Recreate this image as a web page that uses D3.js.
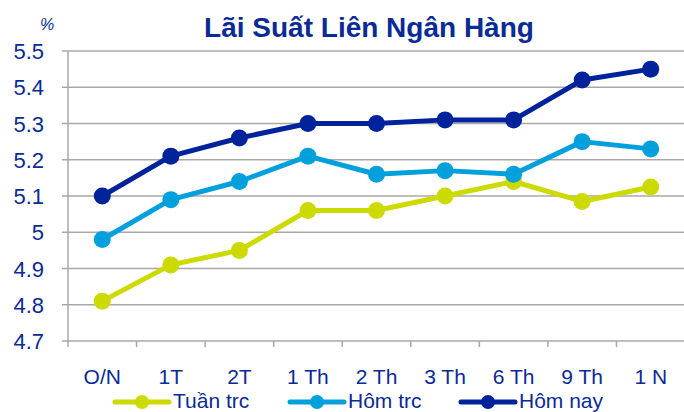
<!DOCTYPE html>
<html>
<head>
<meta charset="utf-8">
<script src="https://cdn.jsdelivr.net/npm/d3@7"></script>
<style>
  body { margin: 0; background: #fff; }
  text { font-family: "Liberation Sans", Arial, sans-serif; }
</style>
</head>
<body>
<script>
const categories = ["O/N", "1T", "2T", "1 Th", "2 Th", "3 Th", "6 Th", "9 Th", "1 N"];
const tuanTrc = [4.81, 4.91, 4.95, 5.06, 5.06, 5.10, 5.14, 5.085, 5.125];
const homTrc = [4.98, 5.09, 5.14, 5.21, 5.16, 5.17, 5.16, 5.25, 5.23];
const homNay = [5.10, 5.21, 5.26, 5.30, 5.30, 5.31, 5.31, 5.42, 5.45];
const yTicks = [4.7, 4.8, 4.9, 5, 5.1, 5.2, 5.3, 5.4, 5.5];

const seriesNames = ["Tuần trc", "Hôm trc", "Hôm nay"];
const seriesColors = ["#CCDA00", "#00A0DC", "#00239C"];
const seriesData = [tuanTrc, homTrc, homNay];

const W = 684, H = 412;
const plotL = 68, plotR = 685, plotT = 51, plotB = 341;
const textColor = "#0A2A96";

const svg = d3.select("body").append("svg")
  .attr("width", W)
  .attr("height", H);

const x = d3.scaleBand().domain(categories).range([plotL, plotR]);
const y = d3.scaleLinear().domain([4.7, 5.5]).range([plotB, plotT]);

// gridlines
svg.append("g")
  .selectAll("line")
  .data(yTicks)
  .enter()
  .append("line")
  .attr("x1", plotL - 6).attr("x2", plotR)
  .attr("y1", d => y(d)).attr("y2", d => y(d))
  .attr("stroke", "#A8A8A8")
  .attr("stroke-width", 1.5);

// y axis line
svg.append("line")
  .attr("x1", plotL).attr("x2", plotL)
  .attr("y1", plotT).attr("y2", plotB + 6)
  .attr("stroke", "#A8A8A8")
  .attr("stroke-width", 1.5);

// x tick marks at category boundaries
svg.append("g")
  .selectAll("line")
  .data(categories.slice(1))
  .enter()
  .append("line")
  .attr("x1", d => x(d)).attr("x2", d => x(d))
  .attr("y1", plotB).attr("y2", plotB + 6)
  .attr("stroke", "#A8A8A8")
  .attr("stroke-width", 1.5);

// y labels
svg.append("g")
  .selectAll("text")
  .data(yTicks)
  .enter()
  .append("text")
  .attr("x", 44)
  .attr("y", d => y(d) + 8)
  .attr("text-anchor", "end")
  .attr("font-size", "22px")
  .attr("fill", textColor)
  .text(d => d3.format("~g")(d));

// x labels
svg.append("g")
  .selectAll("text")
  .data(categories)
  .enter()
  .append("text")
  .attr("x", d => x(d) + x.bandwidth() / 2)
  .attr("y", 384)
  .attr("text-anchor", "middle")
  .attr("font-size", "21px")
  .attr("fill", textColor)
  .text(d => d);

// title
svg.append("text")
  .attr("x", 369).attr("y", 37)
  .attr("text-anchor", "middle")
  .attr("font-size", "28px")
  .attr("font-weight", "bold")
  .attr("fill", textColor)
  .text("Lãi Suất Liên Ngân Hàng");

svg.append("text")
  .attr("x", 47).attr("y", 30)
  .attr("text-anchor", "middle")
  .attr("font-size", "16px")
  .attr("font-style", "italic")
  .attr("fill", textColor)
  .text("%");

// series
const line = d3.line()
  .x((d, i) => x(categories[i]) + x.bandwidth() / 2)
  .y(d => y(d));

seriesData.forEach((vals, s) => {
  const g = svg.append("g");
  g.append("path")
    .datum(vals)
    .attr("d", line)
    .attr("fill", "none")
    .attr("stroke", seriesColors[s])
    .attr("stroke-width", 5)
    .attr("stroke-linejoin", "round");
  g.selectAll("circle")
    .data(vals)
    .enter()
    .append("circle")
    .attr("cx", (d, i) => x(categories[i]) + x.bandwidth() / 2)
    .attr("cy", d => y(d))
    .attr("r", 8.5)
    .attr("fill", seriesColors[s]);
});

// legend
const legendX = [115, 290, 461];
const legend = svg.append("g");
seriesNames.forEach((name, s) => {
  const lg = legend.append("g").attr("transform", `translate(${legendX[s]}, 402)`);
  lg.append("line")
    .attr("x1", 0).attr("x2", 54)
    .attr("y1", 0).attr("y2", 0)
    .attr("stroke", seriesColors[s])
    .attr("stroke-width", 5)
    .attr("stroke-linecap", "round");
  lg.append("circle")
    .attr("cx", 27).attr("cy", 0)
    .attr("r", 7)
    .attr("fill", seriesColors[s]);
  lg.append("text")
    .attr("x", 58).attr("y", 6)
    .attr("font-size", "21px")
    .attr("fill", textColor)
    .text(name);
});
</script>
</body>
</html>
